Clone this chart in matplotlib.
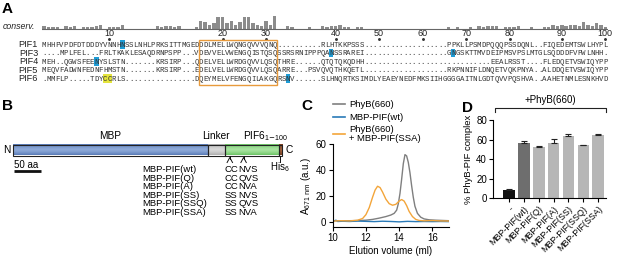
import matplotlib
matplotlib.use('Agg')
import matplotlib.pyplot as plt
import numpy as np
from matplotlib.patches import Rectangle

plt.rcParams['font.family'] = ['Liberation Sans', 'DejaVu Sans']
plt.rcParams['mathtext.default'] = 'regular'

W, H = 617, 263

# ---- panel A data ----
seq_names = ['PIF1', 'PIF3', 'PIF4', 'PIF5', 'PIF6']
seqs = [
    'MHHFVPDFDTDDDYVNNHNSSLNHLPRKSITTMGED' + 'DDLMELLWQNGQVVVQNQ' + '.' * 10 + 'RLHTKKPSSS' + '.' * 19
    + 'PPKLLPSMDPQQQPSSDQNL..FIQEDEMTSWLHYPL',
    '....MPLFEL...FRLTKAKLESAQDRNPSPP...' + 'VDEVVELVWENGQISTQSQ' + 'SSRSRNIPPPQANSSRAREI' + '.' * 19
    + 'GNGSKTTMVDEIPMSVPSLMTGLSQDDDFVPWLNHH.',
    'MEH..QGWSFEENYSLSTN' + '.' * 7 + 'KRSIRP...' + 'QDELVELLWRDGQVVLQSQTHRE' + '.' * 6 + 'QTQTQKQDHH'
    + '.' * 29 + 'EEALRSST....FLEDQETVSWIQYPP',
    'MEQVFADWNFEDNFHMSTN' + '.' * 7 + 'KRSIRP...' + 'EDELVELLWRDGQVVLQSQARRE...' + 'PSVQVQTHKQETL'
    + '.' * 19 + 'RKPNNIFLDNQETVQKPNYA..ALDDQETVSWIQYPP',
    '.MMFLP.....TDYCCRLS' + '.' * 16 + 'DQEYMELVFENGQILAKGQRSNV' + '.' * 6
    + 'SLHNQRTKSIMDLYEAEYNEDFMKSIIHGGGGAITNLGDTQVVPQSHVA..AAHETNMLESNKHVD',
]
conserv = [2, 1, 1, 1, 0, 2, 1, 2, 0, 1,
           1, 1, 2, 3, 0, 1, 1, 1, 3, 0,
           0, 0, 0, 0, 0, 0, 2, 1, 2, 2,
           1, 2, 0, 0, 0, 1, 6, 5, 3, 4,
           9, 9, 4, 6, 3, 5, 9, 9, 4, 3,
           2, 6, 3, 10, 0, 0, 2, 1, 0, 0,
           0, 1, 0, 0, 2, 1, 2, 2, 3, 1,
           1, 0, 1, 1, 0, 0, 0, 0, 0, 0,
           0, 0, 0, 0, 0, 0, 0, 0, 0, 0,
           0, 0, 0, 1, 0, 1, 0, 0, 1, 0,
           2, 1, 2, 2, 2, 0, 1, 1, 1, 2,
           0, 0, 1, 0, 0, 1, 1, 3, 2, 3,
           2, 3, 3, 2, 5, 3, 2, 4, 3, 1]
tick_res = [10, 20, 30, 40, 50, 60, 70, 80, 90, 100]
blue_hits = [(0, 18), (1, 66), (1, 94), (2, 12), (4, 56)]
yellow_hits = [(4, 14), (4, 15)]
box_cols = (36, 53)

# ---- panel B data ----
domains = ['MBP', 'Linker', 'PIF6', 'His6']
domain_len = [361, 31, 100, 6]
mut_sites = [9.5, 35]  # PIF6 residues
variants = ['MBP-PIF(wt)', 'MBP-PIF(Q)', 'MBP-PIF(A)', 'MBP-PIF(SS)', 'MBP-PIF(SSQ)', 'MBP-PIF(SSA)']
site1 = ['CC', 'CC', 'CC', 'SS', 'SS', 'SS']
site2 = ['NVS', 'QVS', 'NVA', 'NVS', 'QVS', 'NVA']

# ---- panel C data ----
phyb_x = [10.0, 10.5, 11.0, 11.5, 12.0, 12.4, 12.8, 13.2, 13.5, 13.7, 13.85, 13.95, 14.05, 14.15, 14.25,
          14.35, 14.45, 14.55, 14.65, 14.75, 14.85, 14.95, 15.1, 15.3, 15.5, 15.8, 16.2, 16.6, 17.0]
phyb_y = [0.8, 0.7, 0.8, 0.9, 1.2, 1.8, 2.8, 4.0, 5.2, 6.5, 9.0, 14.0, 22.0, 33.0, 45.0,
          52.0, 51.0, 46.0, 38.0, 28.0, 19.0, 12.0, 6.5, 3.5, 2.2, 1.5, 1.2, 1.0, 0.8]
pif_x = [10.0, 10.2, 10.3, 10.6, 11.0, 11.5, 12.0, 12.5, 13.0, 13.5, 14.0, 14.5, 15.0, 15.5, 16.0, 16.5, 17.0]
pif_y = [0.3, 1.2, 0.2, 0.4, 0.2, 0.5, 0.3, 0.1, 0.4, 0.2, -0.1, 0.3, 0.1, 0.2, 0.1, 0.2, 0.1]
mix_x = [10.0, 10.5, 11.0, 11.5, 11.8, 12.0, 12.2, 12.4, 12.55, 12.7, 12.85, 13.0, 13.2, 13.4, 13.6,
         13.8, 14.0, 14.15, 14.3, 14.45, 14.6, 14.8, 15.0, 15.2, 15.5, 16.0, 16.5, 17.0]
mix_y = [0.5, 0.8, 0.6, 1.2, 2.5, 5.5, 11.0, 19.0, 24.5, 27.5, 26.5, 23.0, 17.5, 14.0, 12.8,
         13.5, 16.0, 17.2, 16.0, 12.5, 8.0, 4.0, 1.8, 1.0, 0.7, 0.9, 0.6, 0.5]

# ---- panel D data ----
d_labels = ['-', 'MBP-PIF(wt)', 'MBP-PIF(Q)', 'MBP-PIF(A)', 'MBP-PIF(SS)', 'MBP-PIF(SSQ)', 'MBP-PIF(SSA)']
d_vals = [8, 56, 52, 57, 63.5, 54, 65]
d_err = [2, 3, 1.2, 3.5, 2.5, 0.6, 0.6]
d_colors = ['#111111', '#6e6e6e', '#b6b6b6', '#b6b6b6', '#b6b6b6', '#b6b6b6', '#b6b6b6']

C_GRAY = '#7f7f7f'
C_BLUE = '#2a7ab8'
C_ORANGE = '#f3a53a'

fig = plt.figure(figsize=(W / 100, H / 100), dpi=100)


def axes_px(x0, y0, x1, y1):
    return fig.add_axes([x0 / W, 1 - y1 / H, (x1 - x0) / W, (y1 - y0) / H])


# ================= A =================
cw = 4.35
axA = axes_px(42, 8, 42 + 130 * cw, 90)
axA.set_xlim(-0.5, 129.5)
axA.set_ylim(90, 8)
axA.axis('off')
rows = [44.5, 53, 61.5, 70, 78.5]
base = 28.5
cols = np.arange(len(conserv))
axA.bar(cols, -1.3 * np.array(conserv), bottom=base, width=0.78, color='#8c8c8c')
axA.plot([-0.5, 129.5], [base, base], color='#666666', lw=0.8)

# tick columns follow PIF6 numbering
tick_cols = []
n = 0
for c, ch in enumerate(seqs[4]):
    if ch != '.':
        n += 1
        if n in tick_res:
            tick_cols.append(c)
for c, r in zip(tick_cols, tick_res):
    axA.text(c, 36.5, str(r), ha='center', va='baseline', fontsize=6.5, color='#222222')
    axA.plot(c, 39, 'o', ms=1.1, color='#333333')

for r, c in blue_hits:
    axA.add_patch(Rectangle((c - 0.5, rows[r] - 4.2), 1, 8.4, color='#1e9cd6', lw=0, zorder=1))
for r, c in yellow_hits:
    axA.add_patch(Rectangle((c - 0.5, rows[r] - 4.2), 1, 8.4, color='#e4e43c', lw=0, zorder=1))
axA.add_patch(Rectangle((box_cols[0] - 0.5, 40.3), box_cols[1] - box_cols[0] + 1, 44.7,
                        fill=False, ec='#e89a3c', lw=1.0, zorder=3))

for name, s, y in zip(seq_names, seqs, rows):
    axA.text(-1.4, y + 2.6, name, ha='right', va='baseline', fontsize=6.6, color='#222222')
    for c, ch in enumerate(s):
        axA.text(c, y + 2.2, ch, ha='center', va='baseline', fontsize=5.3,
                 family='Liberation Mono', color='#333333', zorder=2)

# ================= B =================
px_per_aa = 0.54
axB = axes_px(0, 95, 300, 225)
bar_top, bar_bot = 144.5, 155.5
grad_cols = {
    'MBP': ('#5a7bb6', '#8eaad9'),
    'Linker': ('#b0b0b0', '#d8d8d8'),
    'PIF6': ('#6cc365', '#a8e3a0'),
    'His6': ('#7a3f22', '#a5643e'),
}
start = 0
centers = {}
for name, ln in zip(domains, domain_len):
    dark, light = grad_cols[name]
    d = np.array(matplotlib.colors.to_rgb(dark))
    l = np.array(matplotlib.colors.to_rgb(light))
    t = np.abs(np.linspace(-1, 1, 30))[:, None] ** 1.5
    img = (l * (1 - t) + d * t)[:, None, :]
    axB.imshow(img, extent=(start, start + ln, bar_bot, bar_top), aspect='auto', zorder=1)
    axB.add_patch(Rectangle((start, bar_top), ln, bar_bot - bar_top, fill=False, ec='#222222', lw=0.8, zorder=2))
    centers[name] = (start, start + ln)
    start += ln
axB.set_xlim(-13 / px_per_aa, 287 / px_per_aa)
axB.set_ylim(225, 95)
axB.axis('off')

mbp0, mbp1 = centers['MBP']
axB.text((mbp0 + mbp1) / 2, 139, 'MBP', ha='center', va='baseline', fontsize=7.3)
lk0, lk1 = centers['Linker']
axB.text((lk0 + lk1) / 2, 139, 'Linker', ha='center', va='baseline', fontsize=7.3)
p0, p1 = centers['PIF6']
axB.text(p0 + 33, 139, r'PIF6$_{1\mathrm{-}100}$', ha='left', va='baseline', fontsize=7.3)
axB.text(mbp0 - 4, 150, 'N', ha='right', va='center', fontsize=7.3)
axB.text(start + 6, 150, 'C', ha='left', va='center', fontsize=7.3)

# scale bar
axB.plot([2, 52], [170.5, 170.5], color='#111111', lw=2, solid_capstyle='butt')
axB.text(2, 167.5, '50 aa', ha='left', va='baseline', fontsize=7)

for s in mut_sites:
    x = p0 + s
    axB.plot([x, x], [bar_bot, 158.5], color='#111111', lw=0.7)
    axB.plot([x - 5, x, x + 5], [162.5, 157.5, 162.5], color='#111111', lw=0.7)
h0, h1 = centers['His6']
axB.plot([(h0 + h1) / 2] * 2, [bar_bot, 161.5], color='#111111', lw=0.7)
axB.text((h0 + h1) / 2, 170.5, r'His$_6$', ha='center', va='baseline', fontsize=7)

for i, (v, a, b) in enumerate(zip(variants, site1, site2)):
    y = 172 + i * 8.6
    axB.text(240, y, v, ha='left', va='baseline', fontsize=6.8)
    axB.text(391, y, a, ha='left', va='baseline', fontsize=6.8)
    axB.text(417, y, b, ha='left', va='baseline', fontsize=6.8)

# ================= C =================
axC = axes_px(332.7, 144.3, 449, 226.9)
axC.plot(phyb_x, phyb_y, color=C_GRAY, lw=1.0)
axC.plot(pif_x, pif_y, color=C_BLUE, lw=1.0)
axC.plot(mix_x, mix_y, color=C_ORANGE, lw=1.0)
axC.set_xlim(10, 17)
axC.set_ylim(-4, 60)
axC.set_xticks([10, 12, 14, 16])
axC.set_yticks([0, 20, 40, 60])
axC.set_xlabel('Elution volume (ml)', fontsize=7, labelpad=2)
axC.set_ylabel(r'A$_{671\ \mathrm{nm}}$ (a.u.)', fontsize=7, labelpad=2)

# ================= D =================
axD = axes_px(493.3, 120, 606, 198.3)
xd = np.arange(len(d_vals))
axD.bar(xd, d_vals, width=0.78, color=d_colors, zorder=1)
axD.errorbar(xd, d_vals, yerr=[[0] * len(d_err), d_err], fmt='none', ecolor='#222222',
             elinewidth=0.8, capsize=2.2, capthick=0.8, zorder=2)
axD.set_xlim(-1.05, 6.52)
axD.set_ylim(0, 80)
axD.set_yticks([0, 20, 40, 60, 80])
axD.set_xticks(xd)
axD.set_xticklabels(d_labels, rotation=45, ha='right', rotation_mode='anchor', fontsize=6.4)
axD.set_ylabel('% PhyB-PIF complex', fontsize=6.8, labelpad=2)
axD.plot([-0.95, -0.95, 6.55, 6.55], [88.5, 92.5, 92.5, 88.5], color='#222222', lw=0.8, clip_on=False)
axD.text(2.8, 95.5, '+PhyB(660)', ha='center', va='bottom', fontsize=7)

for ax in (axC, axD):
    for sp in ('top', 'right'):
        ax.spines[sp].set_visible(False)
    for sp in ('left', 'bottom'):
        ax.spines[sp].set_linewidth(0.8)
    ax.tick_params(labelsize=7, length=3, width=0.8, pad=1.5)
axD.tick_params(axis='x', labelsize=6.4)

# ================= overlay: letters, legend =================
ov = fig.add_axes([0, 0, 1, 1])
ov.set_xlim(0, W)
ov.set_ylim(H, 0)
ov.axis('off')
ov.patch.set_alpha(0)
for letter, x, y in [('A', 2, 2), ('B', 2, 99), ('C', 301, 99), ('D', 462, 101)]:
    ov.text(x, y, letter, ha='left', va='top', fontsize=11, fontweight='bold')
ov.text(3, 29, 'conserv.', ha='left', va='baseline', fontsize=6.3, style='italic', color='#222222')

leg = [(104.3, C_GRAY, ['PhyB(660)']),
       (117.3, C_BLUE, ['MBP-PIF(wt)']),
       (134.3, C_ORANGE, ['PhyB(660)', '+ MBP-PIF(SSA)'])]
for y, col, lines in leg:
    ov.plot([333, 345], [y, y], color=col, lw=1.2)
    if len(lines) == 1:
        ov.text(349, y, lines[0], ha='left', va='center', fontsize=6.8)
    else:
        ov.text(349, y - 4.6, lines[0], ha='left', va='center', fontsize=6.8)
        ov.text(349, y + 4.6, lines[1], ha='left', va='center', fontsize=6.8)

fig.savefig('out.png', dpi=100)
